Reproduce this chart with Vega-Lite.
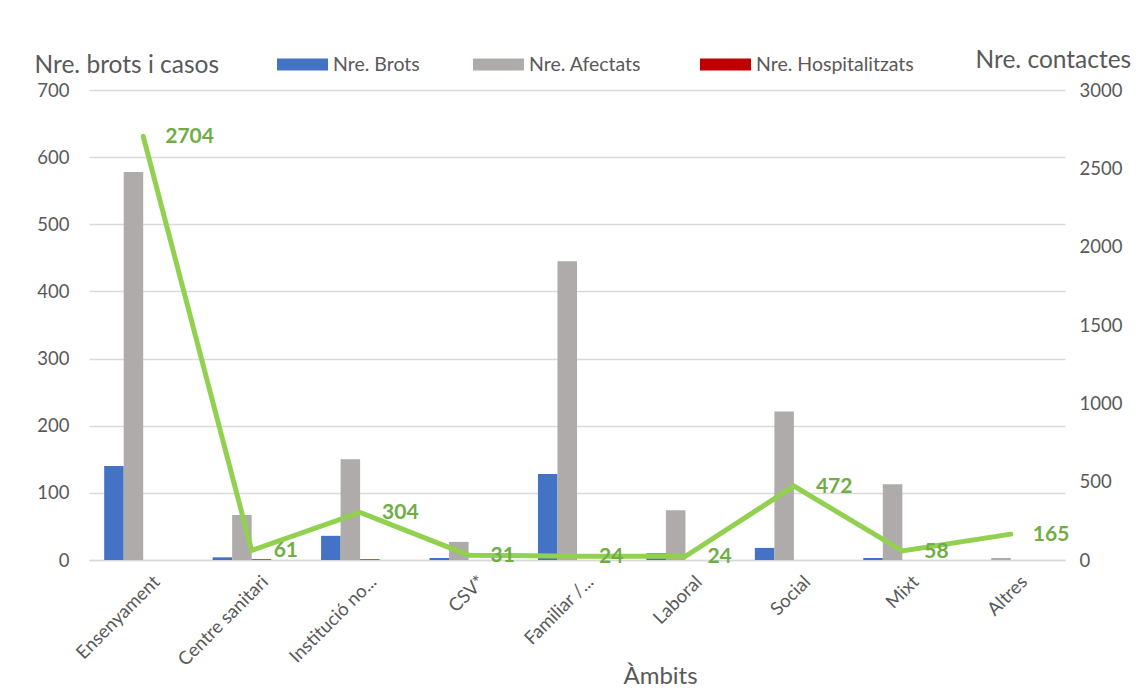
{
  "$schema": "https://vega.github.io/schema/vega-lite/v6.json",
  "width": 976,
  "height": 470,
  "autosize": {"type": "none"},
  "padding": {"left": 89, "top": 90, "right": 72, "bottom": 131},
  "config": {
    "font": "Lato",
    "view": {"stroke": null},
    "legend": {
      "orient": "none",
      "legendX": 188,
      "legendY": -51,
      "direction": "horizontal",
      "title": null,
      "symbolType": "M-1,-0.235H1V0.235H-1Z",
      "symbolSize": 2601,
      "symbolStrokeWidth": 0,
      "labelFontSize": 19.5,
      "labelColor": "#595959",
      "labelOffset": 5,
      "columnPadding": 53
    }
  },
  "datasets": {
    "casos": [
      {"ambit": "Ensenyament", "serie": "Nre. Brots", "valor": 140},
      {"ambit": "Ensenyament", "serie": "Nre.  Afectats", "valor": 578},
      {"ambit": "Ensenyament", "serie": "Nre. Hospitalitzats", "valor": 0},
      {"ambit": "Centre sanitari", "serie": "Nre. Brots", "valor": 4},
      {"ambit": "Centre sanitari", "serie": "Nre.  Afectats", "valor": 67},
      {"ambit": "Centre sanitari", "serie": "Nre. Hospitalitzats", "valor": 1},
      {"ambit": "Institució no...", "serie": "Nre. Brots", "valor": 36},
      {"ambit": "Institució no...", "serie": "Nre.  Afectats", "valor": 150},
      {"ambit": "Institució no...", "serie": "Nre. Hospitalitzats", "valor": 1},
      {"ambit": "CSV*", "serie": "Nre. Brots", "valor": 3},
      {"ambit": "CSV*", "serie": "Nre.  Afectats", "valor": 27},
      {"ambit": "CSV*", "serie": "Nre. Hospitalitzats", "valor": 0},
      {"ambit": "Familiar /...", "serie": "Nre. Brots", "valor": 128},
      {"ambit": "Familiar /...", "serie": "Nre.  Afectats", "valor": 445},
      {"ambit": "Familiar /...", "serie": "Nre. Hospitalitzats", "valor": 0},
      {"ambit": "Laboral", "serie": "Nre. Brots", "valor": 10},
      {"ambit": "Laboral", "serie": "Nre.  Afectats", "valor": 74},
      {"ambit": "Laboral", "serie": "Nre. Hospitalitzats", "valor": 0},
      {"ambit": "Social", "serie": "Nre. Brots", "valor": 18},
      {"ambit": "Social", "serie": "Nre.  Afectats", "valor": 221},
      {"ambit": "Social", "serie": "Nre. Hospitalitzats", "valor": 0},
      {"ambit": "Mixt", "serie": "Nre. Brots", "valor": 3},
      {"ambit": "Mixt", "serie": "Nre.  Afectats", "valor": 113},
      {"ambit": "Mixt", "serie": "Nre. Hospitalitzats", "valor": 0},
      {"ambit": "Altres", "serie": "Nre. Brots", "valor": 0},
      {"ambit": "Altres", "serie": "Nre.  Afectats", "valor": 3},
      {"ambit": "Altres", "serie": "Nre. Hospitalitzats", "valor": 0}
    ],
    "contactes": [
      {"ambit": "Ensenyament", "contactes": 2704},
      {"ambit": "Centre sanitari", "contactes": 61},
      {"ambit": "Institució no...", "contactes": 304},
      {"ambit": "CSV*", "contactes": 31},
      {"ambit": "Familiar /...", "contactes": 24},
      {"ambit": "Laboral", "contactes": 24},
      {"ambit": "Social", "contactes": 472},
      {"ambit": "Mixt", "contactes": 58},
      {"ambit": "Altres", "contactes": 165}
    ]
  },
  "layer": [
    {
      "data": {"name": "casos"},
      "mark": {"type": "bar"},
      "encoding": {
        "x": {
          "field": "ambit",
          "type": "nominal",
          "scale": {
            "domain": ["Ensenyament", "Centre sanitari", "Institució no...", "CSV*", "Familiar /...", "Laboral", "Social", "Mixt", "Altres"],
            "paddingInner": 0.28,
            "paddingOuter": 0.14
          },
          "axis": {
            "title": "Àmbits",
            "labelAngle": -45,
            "labelFontSize": 18.5,
            "labelColor": "#595959",
            "labelOffset": 7,
            "labelPadding": 12,
            "ticks": false,
            "domainColor": "#D9D9D9",
            "domainWidth": 1.5,
            "titleX": 571,
            "titleY": 116,
            "titleBaseline": "middle",
            "titleFontSize": 24,
            "titleFontWeight": "normal",
            "titleColor": "#595959"
          }
        },
        "xOffset": {
          "field": "serie",
          "type": "nominal",
          "scale": {
            "domain": ["Nre. Brots", "Nre.  Afectats", "Nre. Hospitalitzats", "Nre. contactes"],
            "paddingInner": 0,
            "paddingOuter": 0
          }
        },
        "y": {
          "field": "valor",
          "type": "quantitative",
          "scale": {"domain": [0, 700]},
          "axis": {
            "title": "Nre. brots i casos",
            "titleAngle": 0,
            "titleAlign": "left",
            "titleBaseline": "middle",
            "titleX": -55,
            "titleY": -25,
            "titleFontSize": 24.5,
            "titleFontWeight": "normal",
            "titleColor": "#595959",
            "values": [0, 100, 200, 300, 400, 500, 600, 700],
            "labelFontSize": 18.5,
            "labelColor": "#595959",
            "labelPadding": 20,
            "ticks": false,
            "domain": false,
            "gridColor": "#D9D9D9",
            "gridWidth": 1.5
          }
        },
        "color": {
          "field": "serie",
          "type": "nominal",
          "scale": {
            "domain": ["Nre. Brots", "Nre.  Afectats", "Nre. Hospitalitzats"],
            "range": ["#4472C4", "#AFABAB", "#C00000"]
          }
        }
      }
    },
    {
      "data": {"name": "contactes"},
      "encoding": {
        "x": {"field": "ambit", "type": "nominal"},
        "y": {
          "field": "contactes",
          "type": "quantitative",
          "scale": {"domain": [0, 3000]},
          "axis": {
            "orient": "right",
            "format": "d",
            "title": "Nre. contactes",
            "titleAngle": 0,
            "titleAlign": "left",
            "titleBaseline": "middle",
            "titleX": -90,
            "titleY": -30,
            "titleFontSize": 24.5,
            "titleFontWeight": "normal",
            "titleColor": "#595959",
            "values": [0, 500, 1000, 1500, 2000, 2500, 3000],
            "labelFontSize": 18.5,
            "labelColor": "#595959",
            "labelPadding": 14,
            "ticks": false,
            "domain": false,
            "grid": false
          }
        }
      },
      "layer": [
        {
          "mark": {"type": "line", "color": "#92D050", "strokeWidth": 5, "strokeCap": "round", "strokeJoin": "miter"}
        },
        {
          "mark": {"type": "text", "align": "left", "baseline": "middle", "dx": 22, "dy": 1, "fontSize": 21, "fontWeight": "bold", "color": "#70AD47"},
          "encoding": {"text": {"field": "contactes", "type": "quantitative"}}
        }
      ]
    }
  ],
  "resolve": {"scale": {"y": "independent"}}
}
